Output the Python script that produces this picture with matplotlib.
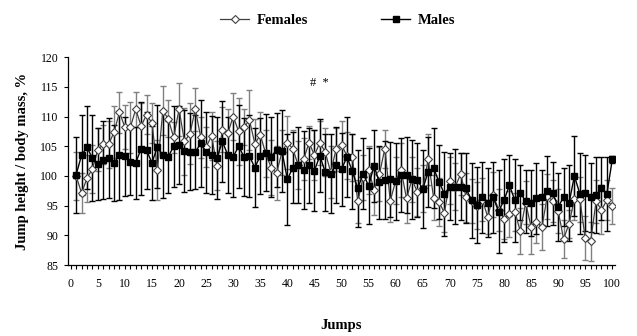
import matplotlib
matplotlib.use("Agg")
import matplotlib.pyplot as plt
import numpy as np

jumps = list(range(1, 101))

females = [100.0, 97.1, 99.6, 101.2, 104.4, 105.3, 105.3, 107.4, 110.7, 108.2,
           108.2, 111.2, 108.4, 110.3, 108.9, 101.0, 111.0, 109.6, 106.5, 111.2,
           105.8, 107.1, 111.2, 106.5, 104.9, 106.7, 101.7, 107.8, 107.2, 110.0,
           107.5, 108.2, 109.4, 105.4, 106.9, 103.8, 101.4, 100.5, 104.0, 105.6,
           104.6, 101.8, 102.8, 105.6, 103.5, 105.6, 104.0, 100.6, 104.5, 105.2,
           103.4, 103.1, 95.7, 99.8, 101.0, 97.7, 100.3, 104.6, 95.8, 99.2,
           101.0, 96.2, 99.4, 97.3, 97.9, 102.8, 96.3, 95.6, 93.8, 99.2,
           98.2, 100.3, 96.4, 95.8, 95.0, 96.0, 93.1, 96.8, 94.3, 92.8,
           93.6, 94.0, 90.7, 95.5, 91.4, 92.3, 91.4, 96.6, 95.8, 94.1,
           89.4, 91.9, 96.1, 96.1, 89.5, 89.0, 95.7, 94.3, 95.9, 94.9]

males = [100.2, 103.5, 104.8, 103.0, 102.0, 102.7, 103.0, 102.2, 103.5, 103.3,
         102.4, 102.2, 104.6, 104.3, 102.2, 104.9, 103.5, 103.2, 105.0, 105.2,
         104.2, 104.1, 104.0, 105.5, 104.0, 103.5, 103.0, 105.8, 103.5, 103.2,
         105.0, 103.2, 103.3, 101.4, 103.4, 103.9, 103.2, 104.4, 104.2, 99.4,
         101.4, 101.8, 101.0, 101.8, 100.9, 103.4, 100.6, 100.4, 101.8, 101.1,
         103.2, 100.8, 97.9, 100.4, 98.3, 101.7, 98.9, 99.3, 99.4, 99.1,
         100.2, 100.2, 99.4, 99.3, 97.8, 100.7, 101.3, 99.0, 97.0, 98.2,
         98.2, 98.2, 97.9, 95.9, 95.1, 96.4, 95.5, 96.4, 94.0, 95.9,
         98.4, 95.9, 97.2, 95.7, 95.4, 96.2, 96.4, 97.5, 97.1, 94.8,
         96.4, 95.4, 100.0, 97.0, 97.2, 96.4, 96.8, 97.9, 97.0, 102.8]

females_sd = [4.0, 3.4, 4.0, 4.0, 3.6, 3.3, 4.0, 4.4, 3.4, 3.7,
              4.3, 3.0, 3.8, 3.3, 3.4, 5.0, 4.1, 3.1, 2.6, 4.5,
              5.6, 5.1, 3.6, 3.5, 3.4, 4.0, 4.1, 3.8, 4.0, 3.9,
              5.6, 3.0, 5.1, 4.2, 3.9, 4.0, 4.6, 4.5, 3.8, 4.5,
              3.2, 4.0, 3.5, 2.8, 4.2, 3.7, 4.0, 4.4, 3.6, 4.1,
              4.0, 3.9, 3.6, 3.8, 4.0, 4.2, 4.5, 3.2, 3.6, 4.0,
              4.5, 4.2, 3.8, 4.1, 4.0, 4.3, 3.8, 4.0, 3.2, 4.0,
              3.9, 3.5, 4.1, 3.7, 4.0, 3.6, 2.8, 3.8, 3.5, 3.4,
              3.9, 3.2, 3.9, 3.6, 4.6, 3.6, 3.9, 3.8, 3.5, 3.7,
              3.2, 2.4, 3.5, 3.8, 3.7, 3.3, 3.6, 4.1, 3.4, 3.0]

males_sd = [6.4, 6.7, 7.0, 7.2, 6.0, 6.6, 6.8, 6.4, 7.5, 6.7,
            5.6, 6.1, 7.8, 6.5, 6.2, 7.0, 7.2, 6.0, 6.8, 6.6,
            6.9, 6.5, 6.2, 7.3, 6.8, 6.6, 6.9, 6.8, 6.4, 6.7,
            7.0, 6.6, 6.9, 6.6, 6.4, 6.5, 6.8, 6.2, 6.9, 7.6,
            6.0, 6.4, 6.5, 6.3, 6.8, 6.1, 6.5, 6.6, 6.4, 6.2,
            6.8, 6.3, 6.5, 6.0, 6.4, 6.1, 6.2, 6.6, 6.3, 6.5,
            6.2, 6.4, 6.6, 6.3, 6.5, 5.9, 6.7, 6.2, 7.1, 5.6,
            6.3, 5.6, 5.9, 6.3, 6.4, 6.0, 5.8, 6.0, 7.0, 7.0,
            5.1, 7.0, 4.6, 5.3, 5.6, 5.9, 4.6, 5.9, 5.3, 5.7,
            4.9, 6.4, 6.7, 6.8, 6.4, 5.8, 6.4, 5.3, 6.2, 0.6]

y_ticks = [85, 90, 95, 100, 105, 110, 115, 120]

serif = "Liberation Serif"

fig = plt.figure(figsize=(6.37, 3.36), dpi=100)
ax = fig.add_axes([0.1068, 0.2113, 0.8587, 0.6187])

ax.errorbar(jumps, females, yerr=females_sd, fmt="none", ecolor="#808080",
            elinewidth=1.0, capsize=2.5, capthick=1.0, zorder=2)
ax.errorbar(jumps, males, yerr=males_sd, fmt="none", ecolor="black",
            elinewidth=1.0, capsize=2.5, capthick=1.0, zorder=2)
lf, = ax.plot(jumps, females, color="#404040", lw=0.9, marker="D",
              markersize=4.2, markerfacecolor="white", markeredgecolor="#404040",
              markeredgewidth=0.8, zorder=3, label="Females")
lm, = ax.plot(jumps, males, color="black", lw=1.0, marker="s",
              markersize=4.5, markerfacecolor="black", markeredgecolor="black",
              zorder=4, label="Males")

ax.set_xlim(-0.5, 100.5)
ax.set_ylim(85, 120)
ax.set_xticks(range(0, 101))
ax.set_xticklabels([str(v) if v % 5 == 0 else "" for v in range(0, 101)])
ax.set_yticks(y_ticks)
ax.set_yticklabels([str(v) for v in y_ticks])
ax.tick_params(axis="x", direction="out", length=3, width=0.8, pad=6,
               labelsize=8.5)
ax.tick_params(axis="y", direction="out", length=3, width=0.8, pad=4,
               labelsize=8.5)
for lab in ax.get_xticklabels() + ax.get_yticklabels():
    lab.set_fontfamily(serif)

for s in ["top", "right"]:
    ax.spines[s].set_visible(False)
for s in ["left", "bottom"]:
    ax.spines[s].set_linewidth(0.9)

ax.set_ylabel("Jump height / body mass, %", fontfamily=serif,
              fontweight="bold", fontsize=10.5, labelpad=8)
ax.set_xlabel("Jumps", fontfamily=serif, fontweight="bold", fontsize=10.5,
              labelpad=21)

ax.text(46.0, 115.6, "#  *", ha="center", va="center", fontfamily=serif,
        fontsize=9)

fig.legend(handles=[lf, lm], loc="center", bbox_to_anchor=(0.530, 0.94),
           ncol=2, frameon=False, prop={"family": serif, "weight": "bold",
                                        "size": 10.5},
           handlelength=2.0, columnspacing=5.0, handletextpad=0.5)

fig.savefig("out.png", dpi=100)
